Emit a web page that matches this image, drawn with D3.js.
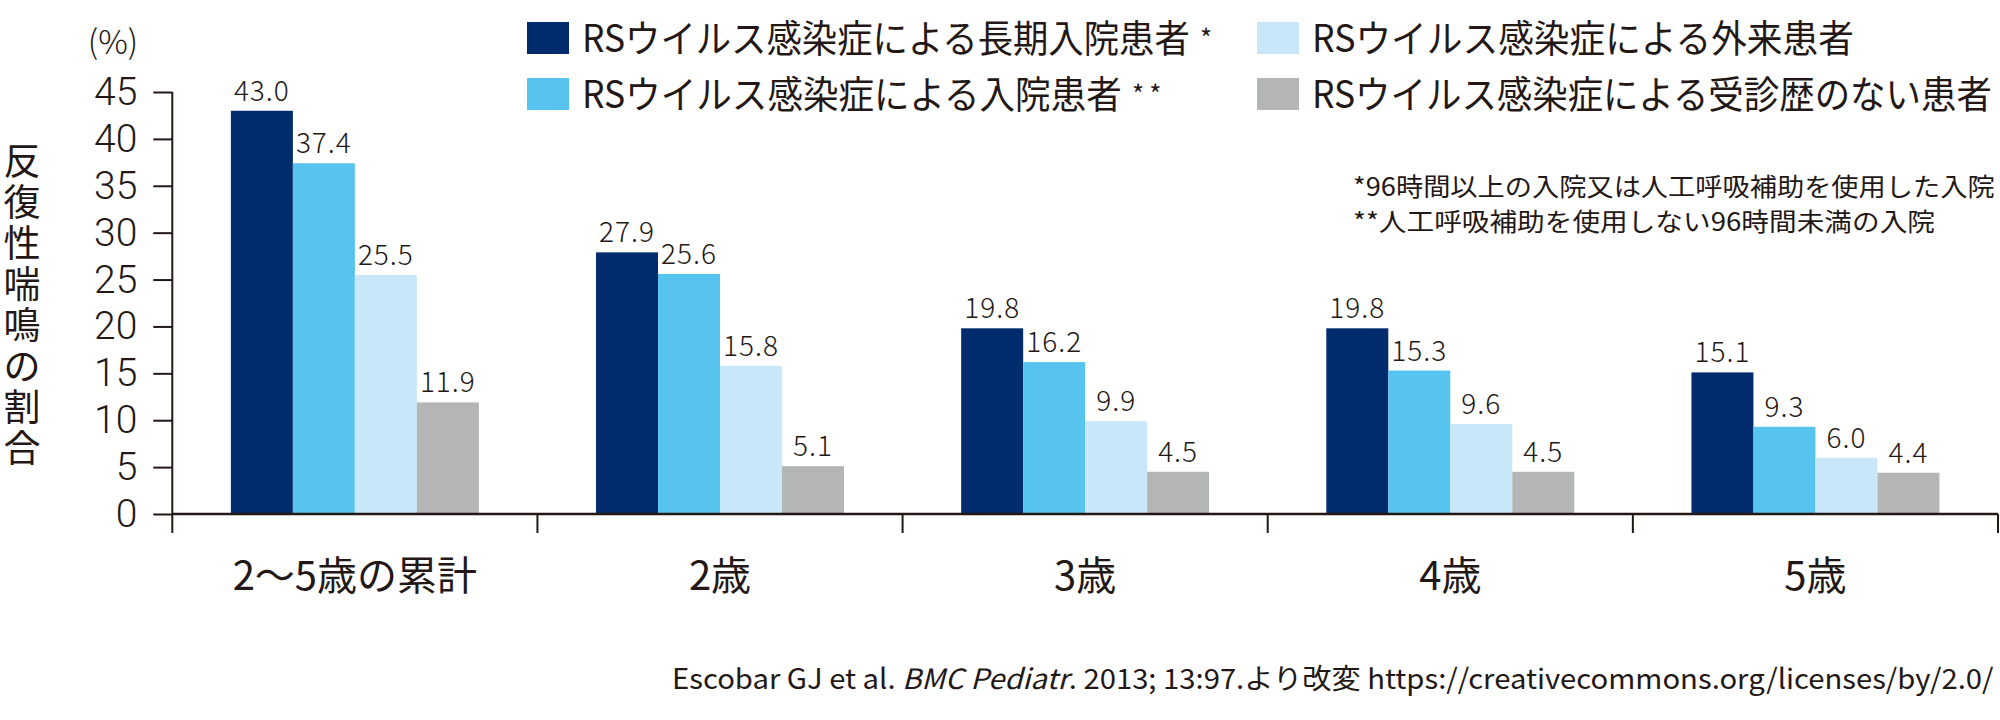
<!DOCTYPE html>
<html>
<head>
<meta charset="utf-8">
<script src="https://cdn.jsdelivr.net/npm/d3@7"></script>
<style>
  body { margin: 0; background: #fff; }
  svg text { font-family: "Noto Sans CJK JP", "Noto Sans", sans-serif; fill: #231815; }
</style>
</head>
<body>
<svg id="chart"></svg>
<script>
// categories and series
const categories = ['2〜5歳の累計', '2歳', '3歳', '4歳', '5歳'];
const seriesKeys = ['long', 'inpatient', 'outpatient', 'none'];
const seriesNames = [
    'RSウイルス感染症による長期入院患者',
    'RSウイルス感染症による入院患者',
    'RSウイルス感染症による外来患者',
    'RSウイルス感染症による受診歴のない患者'
];
const seriesMarks = ['*', '**', '', ''];
const seriesColors = ['#002B6C', '#57C3EF', '#C8E7F9', '#B4B5B5'];

// values per series, in category order
const longStay = [43.0, 27.9, 19.8, 19.8, 15.1];
const inpatient = [37.4, 25.6, 16.2, 15.3, 9.3];
const outpatient = [25.5, 15.8, 9.9, 9.6, 6.0];
const noVisit = [11.9, 5.1, 4.5, 4.5, 4.4];

const yTicks = [0, 5, 10, 15, 20, 25, 30, 35, 40, 45];
const yTitle = '反復性喘鳴の割合';
const footnotes = [
    '*96時間以上の入院又は人工呼吸補助を使用した入院',
    '**人工呼吸補助を使用しない96時間未満の入院'
];

// squeeze a text horizontally so it spans the wanted width
function squeeze(sel, x, y, width) {
    sel.each(function (d, i) {
        const w = typeof width === 'function' ? width(d, i) : width;
        const k = w / this.getComputedTextLength();
        d3.select(this).attr('transform', `translate(${x},${y}) scale(${k},1)`);
    });
}

class GroupedBars {
    constructor(_config, _data) {
        this.config = {
            parentElement: _config.parentElement,
            containerWidth: _config.containerWidth || 2000,
            containerHeight: _config.containerHeight || 720,
            margin: _config.margin || { top: 92, right: 2, bottom: 206, left: 172.3 }
        }
        this.data = _data;
        this.initVis();
    }

    initVis() {
        let vis = this;

        vis.width = vis.config.containerWidth - vis.config.margin.left - vis.config.margin.right;
        vis.height = vis.config.containerHeight - vis.config.margin.top - vis.config.margin.bottom;

        vis.svg = d3.select(vis.config.parentElement)
            .attr('width', vis.config.containerWidth)
            .attr('height', vis.config.containerHeight);

        vis.chart = vis.svg.append('g')
            .attr('transform', `translate(${vis.config.margin.left},${vis.config.margin.top})`);

        vis.xScale = d3.scaleBand()
            .domain(categories)
            .range([0, vis.width])
            .paddingInner(0)
            .paddingOuter(0);

        vis.xInner = d3.scaleBand()
            .domain(seriesKeys)
            .range([0, vis.xScale.bandwidth()])
            .paddingOuter(0.945);

        vis.yScale = d3.scaleLinear()
            .domain([0, 45])
            .range([vis.height, 0]);

        vis.yAxis = d3.axisLeft(vis.yScale)
            .tickValues(yTicks)
            .tickSize(19)
            .tickPadding(16)
            .tickFormat(d3.format('d'));

        vis.updateVis();
    }

    updateVis() {
        let vis = this;
        vis.flat = [];
        vis.data.forEach((s, si) => {
            s.values.forEach((v, ci) => {
                vis.flat.push({ key: s.key, category: categories[ci], value: v, color: seriesColors[si] });
            });
        });
        vis.renderVis();
    }

    renderVis() {
        let vis = this;

        // bars
        vis.chart.selectAll('.bar')
            .data(vis.flat)
            .join('rect')
            .attr('class', 'bar')
            .attr('x', d => vis.xScale(d.category) + vis.xInner(d.key))
            .attr('width', vis.xInner.bandwidth())
            .attr('y', d => vis.yScale(d.value))
            .attr('height', d => vis.height - vis.yScale(d.value))
            .style('fill', d => d.color);

        // value labels
        vis.chart.selectAll('.value')
            .data(vis.flat)
            .join('text')
            .attr('class', 'value')
            .attr('x', d => vis.xScale(d.category) + vis.xInner(d.key) + vis.xInner.bandwidth() / 2)
            .attr('y', d => vis.yScale(d.value) - 10)
            .attr('text-anchor', 'middle')
            .attr('font-size', '28px')
            .attr('font-weight', 300)
            .attr('letter-spacing', '1px')
            .text(d => d3.format('.1f')(d.value));

        // y axis (Roboto: its line box fits the 5-unit tick step)
        vis.yAxisG = vis.chart.append('g')
            .attr('class', 'axis y-axis')
            .call(vis.yAxis);
        vis.yAxisG.select('.domain').remove();
        vis.yAxisG.selectAll('.tick line').attr('stroke', '#231815').attr('stroke-width', 2);
        vis.yAxisG.selectAll('.tick text')
            .attr('font-size', '39px')
            .attr('font-weight', 300)
            .style('font-family', 'Roboto, sans-serif')
            .attr('fill', '#231815');

        // axis lines
        vis.chart.append('line')
            .attr('x1', 0).attr('x2', 0)
            .attr('y1', vis.yScale(45)).attr('y2', vis.height + 19)
            .attr('stroke', '#231815').attr('stroke-width', 2);
        vis.chart.append('line')
            .attr('x1', 0).attr('x2', vis.width)
            .attr('y1', vis.height).attr('y2', vis.height)
            .attr('stroke', '#231815').attr('stroke-width', 2.5);

        // x ticks at category boundaries
        const bounds = categories.map(c => vis.xScale(c) + vis.xScale.bandwidth());
        vis.chart.selectAll('.x-tick')
            .data(bounds)
            .join('line')
            .attr('class', 'x-tick')
            .attr('x1', d => d).attr('x2', d => d)
            .attr('y1', vis.height).attr('y2', vis.height + 19)
            .attr('stroke', '#231815').attr('stroke-width', 2);

        vis.chart.selectAll('.x-label')
            .data(categories)
            .join('text')
            .attr('class', 'x-label')
            .attr('x', d => vis.xScale(d) + vis.xScale.bandwidth() / 2)
            .attr('y', vis.height + 59)
            .attr('dominant-baseline', 'central')
            .attr('text-anchor', 'middle')
            .attr('font-size', '40px')
            .text(d => d);

        // unit label
        vis.svg.append('text')
            .attr('x', 113).attr('y', 40)
            .attr('text-anchor', 'middle')
            .attr('dominant-baseline', 'central')
            .attr('font-size', '33px')
            .attr('font-weight', 300)
            .text('(%)');

        // vertical y title: line turned down the page, each glyph turned back upright
        const titleChars = Array.from(yTitle);
        vis.svg.append('g')
            .attr('transform', 'translate(3.5,175) rotate(90)')
            .append('text')
            .attr('font-size', '37px')
            .attr('letter-spacing', '4px')
            .attr('rotate', titleChars.map(() => -90).join(' '))
            .text(yTitle);

        // legend
        const legendPos = [
            { x: 527, y: 22, w: 608 },
            { x: 527, y: 78, w: 540 },
            { x: 1257, y: 22, w: 542 },
            { x: 1257, y: 78, w: 680 }
        ];
        const legend = vis.svg.selectAll('.legend')
            .data(vis.data)
            .join('g')
            .attr('class', 'legend')
            .attr('transform', (d, i) => `translate(${legendPos[i].x},${legendPos[i].y})`);
        legend.append('rect')
            .attr('width', 42).attr('height', 32)
            .style('fill', (d, i) => seriesColors[i]);
        legend.append('text')
            .attr('font-size', '38px')
            .text(d => d.name)
            .call(squeeze, 55, 30, (d, i) => legendPos[i].w);
        legend.append('text')
            .attr('x', (d, i) => 55 + legendPos[i].w + 10)
            .attr('y', 26)
            .attr('font-size', '26px')
            .attr('letter-spacing', '5px')
            .text(d => d.mark);

        // footnotes
        vis.svg.selectAll('.footnote')
            .data(footnotes)
            .join('text')
            .attr('class', 'footnote')
            .attr('font-size', '25px')
            .text(d => d)
            .each(function (d, i) {
                d3.select(this).call(squeeze, 1353, 196 + i * 35, i === 0 ? 642 : 582);
            });

        // source line
        const src = vis.svg.append('text')
            .attr('font-size', '28px');
        src.append('tspan').text('Escobar GJ et al. ');
        src.append('tspan').attr('font-style', 'italic').text('BMC Pediatr');
        src.append('tspan').text('. 2013; 13:97.より改変 https://creativecommons.org/licenses/by/2.0/');
        src.call(squeeze, 672, 689, 1322);
    }
}

const data = [
    { key: seriesKeys[0], name: seriesNames[0], mark: seriesMarks[0], values: longStay },
    { key: seriesKeys[1], name: seriesNames[1], mark: seriesMarks[1], values: inpatient },
    { key: seriesKeys[2], name: seriesNames[2], mark: seriesMarks[2], values: outpatient },
    { key: seriesKeys[3], name: seriesNames[3], mark: seriesMarks[3], values: noVisit }
];

new GroupedBars({ parentElement: '#chart' }, data);
</script>
</body>
</html>
